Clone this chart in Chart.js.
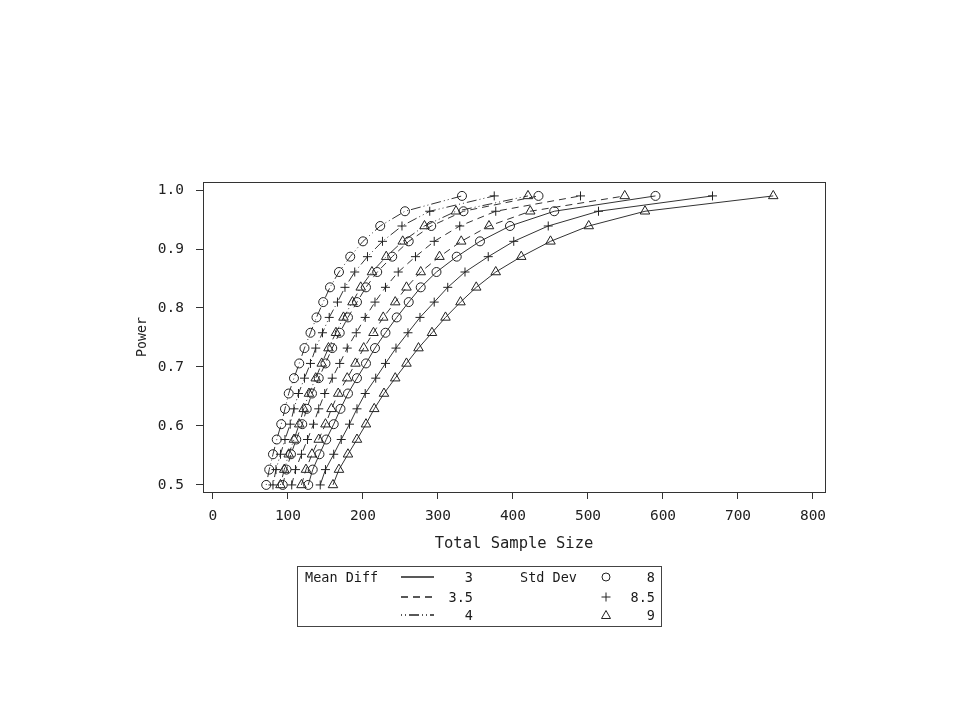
<!DOCTYPE html>
<html>
<head>
<meta charset="utf-8">
<title>Power curves</title>
<script src="https://cdn.jsdelivr.net/npm/chart.js@4.4.1/dist/chart.umd.min.js"></script>
<style>
  html, body { margin: 0; padding: 0; background: #fff; }
  #wrap { position: relative; width: 960px; height: 720px; }
  #legend {
    position: absolute; left: 297px; top: 566px; width: 363px; height: 59px;
    border: 1px solid #444; font-family: 'DejaVu Sans Mono', monospace;
    font-size: 13.5px; color: #1a1a1a;
  }
  #legend span { position: absolute; line-height: 14px; white-space: pre; }
  #legend svg { position: absolute; overflow: visible; }
  .num { text-align: right; }
</style>
</head>
<body>
<div id="wrap">
  <canvas id="powerChart" width="960" height="720"></canvas>
  <div id="legend"></div>
</div>
<script>
// power levels on the y axis (same for every curve)
const powerLevels = [0.500, 0.526, 0.552, 0.577, 0.603, 0.629, 0.655, 0.681, 0.706, 0.732,
                     0.758, 0.784, 0.810, 0.835, 0.861, 0.887, 0.913, 0.939, 0.964, 0.990];

const meanDiffs = ['3', '3.5', '4'];
const stdDevs   = ['8', '8.5', '9'];

// total sample size, bottom to top
const nDiff3Sd8    = [127, 133, 142, 151, 161, 170, 180, 192, 204, 216, 230, 245, 261, 277, 298, 325, 356, 396, 455, 590];
const nDiff3Sd85   = [143, 150, 161, 171, 182, 192, 203, 217, 230, 244, 260, 276, 295, 313, 336, 367, 401, 447, 514, 666];
const nDiff3Sd9    = [160, 168, 180, 192, 204, 215, 228, 243, 258, 274, 292, 310, 330, 351, 377, 411, 450, 501, 576, 747];
const nDiff35Sd8   = [93, 98, 104, 111, 119, 125, 132, 141, 150, 159, 169, 180, 192, 204, 219, 239, 261, 291, 334, 434];
const nDiff35Sd85  = [105, 110, 118, 126, 134, 141, 149, 159, 169, 179, 191, 203, 216, 230, 247, 270, 295, 329, 377, 490];
const nDiff35Sd9   = [118, 124, 132, 141, 150, 158, 167, 179, 190, 201, 214, 227, 243, 258, 277, 302, 331, 368, 423, 549];
const nDiff4Sd8    = [71, 75, 80, 85, 91, 96, 101, 108, 115, 122, 130, 138, 147, 156, 168, 183, 200, 223, 256, 332];
const nDiff4Sd85   = [80, 84, 90, 96, 103, 108, 114, 122, 130, 137, 146, 155, 166, 176, 189, 206, 226, 252, 289, 375];
const nDiff4Sd9    = [90, 95, 101, 108, 115, 121, 128, 137, 145, 154, 164, 174, 186, 197, 212, 231, 253, 282, 324, 420];

const xTicks      = [0, 100, 200, 300, 400, 500, 600, 700, 800];
const xTickLabels = ['0', '100', '200', '300', '400', '500', '600', '700', '800'];
const yTicks      = [0.5, 0.6, 0.7, 0.8, 0.9, 1.0];
const yTickLabels = ['0.5', '0.6', '0.7', '0.8', '0.9', '1.0'];

// line style per mean diff, marker per std dev
const dashes = [[], [7, 5], [1, 3, 1, 3, 10, 3]];
const marks  = ['circle', 'cross', 'triangle'];
const markR  = [4.5, 4.5, 5.5];

const curves = [
  { d: 0, s: 0, n: nDiff3Sd8 },  { d: 0, s: 1, n: nDiff3Sd85 },  { d: 0, s: 2, n: nDiff3Sd9 },
  { d: 1, s: 0, n: nDiff35Sd8 }, { d: 1, s: 1, n: nDiff35Sd85 }, { d: 1, s: 2, n: nDiff35Sd9 },
  { d: 2, s: 0, n: nDiff4Sd8 },  { d: 2, s: 1, n: nDiff4Sd85 },  { d: 2, s: 2, n: nDiff4Sd9 },
];

const ink = '#222';
const mono = "'DejaVu Sans Mono', monospace";

const datasets = curves.map(c => ({
  label: `Mean Diff ${meanDiffs[c.d]}, Std Dev ${stdDevs[c.s]}`,
  data: c.n.map((n, i) => ({ x: n, y: powerLevels[i] })),
  showLine: true,
  tension: 0,
  borderColor: '#333',
  borderWidth: 1,
  borderDash: dashes[c.d],
  pointStyle: marks[c.s],
  pointRadius: markR[c.s],
  pointHoverRadius: markR[c.s],
  pointBorderColor: ink,
  pointBorderWidth: 1,
  pointBackgroundColor: 'rgba(0,0,0,0)',
}));

// box round the plot area
const frame = {
  id: 'frame',
  afterDatasetsDraw(chart) {
    const a = chart.chartArea, ctx = chart.ctx;
    ctx.save();
    ctx.strokeStyle = '#333';
    ctx.lineWidth = 1;
    ctx.strokeRect(Math.round(a.left) + 0.5, Math.round(a.top) + 0.5,
                   Math.round(a.right - a.left), Math.round(a.bottom - a.top));
    ctx.restore();
  }
};

new Chart(document.getElementById('powerChart'), {
  type: 'scatter',
  data: { datasets },
  options: {
    responsive: false,
    animation: false,
    events: [],
    layout: { padding: { left: 131, top: 182, right: 135, bottom: 163 } },
    plugins: { legend: { display: false }, tooltip: { enabled: false } },
    scales: {
      x: {
        type: 'linear', min: -13.3, max: 816,
        afterBuildTicks: s => { s.ticks = xTicks.map(v => ({ value: v })); },
        afterFit: s => { s.height = 65; s.paddingLeft = 0; s.paddingRight = 0; },
        ticks: {
          callback: (v, i) => xTickLabels[i],
          color: ink, padding: 9, maxRotation: 0, autoSkip: false,
          font: { family: mono, size: 14.5 },
        },
        grid: { drawOnChartArea: false, drawTicks: true, tickLength: 7, color: '#333', lineWidth: 1 },
        border: { display: false },
        title: { display: true, text: 'Total Sample Size', color: ink,
                 padding: { top: 4, bottom: 4 }, font: { family: mono, size: 15.5 } },
      },
      y: {
        type: 'linear', min: 0.488, max: 1.0136,
        afterBuildTicks: s => { s.ticks = yTicks.map(v => ({ value: v })); },
        afterFit: s => { s.width = 72; s.paddingTop = 0; s.paddingBottom = 0; },
        ticks: {
          callback: (v, i) => yTickLabels[i],
          color: ink, padding: 12, autoSkip: false,
          font: { family: mono, size: 14.5 },
        },
        grid: { drawOnChartArea: false, drawTicks: true, tickLength: 7, color: '#333', lineWidth: 1 },
        border: { display: false },
        title: { display: true, text: 'Power', color: ink,
                 padding: { top: 4, bottom: 4 }, font: { family: mono, size: 13.3 } },
      },
    },
  },
  plugins: [frame],
});

// legend box below the plot
(function buildLegend() {
  const box = document.getElementById('legend');
  const rowTop = [3, 23, 41];
  let html = `<span style="left:7px;top:${rowTop[0]}px">Mean Diff</span>`;
  html += `<span style="left:222px;top:${rowTop[0]}px">Std Dev</span>`;
  meanDiffs.forEach((d, i) => {
    const cy = rowTop[i] + 7;
    const dash = dashes[i].length ? `stroke-dasharray="${dashes[i].join(' ')}"` : '';
    html += `<svg style="left:103px;top:${cy - 3}px" width="33" height="6">
      <line x1="0" y1="3" x2="33" y2="3" stroke="${ink}" stroke-width="1.5" ${dash}/></svg>`;
    html += `<span class="num" style="left:135px;width:40px;top:${rowTop[i]}px">${d}</span>`;
  });
  stdDevs.forEach((s, i) => {
    const cy = rowTop[i] + 7;
    let shape;
    if (i === 0) shape = `<circle cx="6" cy="6" r="4" fill="none" stroke="${ink}" stroke-width="1"/>`;
    else if (i === 1) shape = `<path d="M1.5 6 H10.5 M6 1.5 V10.5" stroke="${ink}" stroke-width="1"/>`;
    else shape = `<path d="M6 1.5 L10.5 9.5 L1.5 9.5 Z" fill="none" stroke="${ink}" stroke-width="1"/>`;
    html += `<svg style="left:302px;top:${cy - 6}px" width="12" height="12">${shape}</svg>`;
    html += `<span class="num" style="left:315px;width:42px;top:${rowTop[i]}px">${s}</span>`;
  });
  box.innerHTML = html;
})();
</script>
</body>
</html>
